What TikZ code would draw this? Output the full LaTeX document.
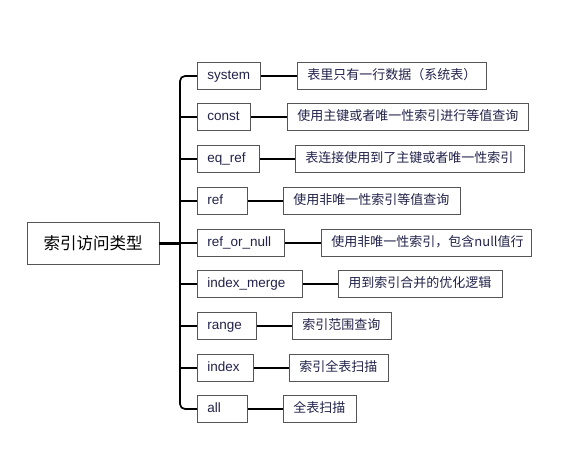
\documentclass[tikz,border=0pt]{standalone}
\usepackage{fontspec}
\setmainfont{Liberation Sans}
\newfontfamily\cjk{Noto Sans CJK SC}
\definecolor{txt}{HTML}{22224A}
\definecolor{edge}{HTML}{555555}
\begin{document}
\begin{tikzpicture}[x=1pt,y=-1pt,
  catbox/.style={draw=edge,line width=0.9pt,anchor=west,minimum height=27pt,inner xsep=10pt,inner ysep=0pt,text height=9.5pt,text depth=2.5pt,align=left,text=txt,font=\fontsize{13.5}{15}\selectfont},
  descbox/.style={draw=edge,line width=0.9pt,anchor=west,minimum height=27pt,inner xsep=10pt,inner ysep=0pt,text height=10pt,text depth=2.5pt,align=left,text=txt,font=\cjk\fontsize{13}{15}\selectfont},
  conn/.style={line width=1.7pt,black},
  rootconn/.style={line width=3pt,black}]
\useasboundingbox (0,0) rectangle (576,464);
\fill[white] (0,0) rectangle (576,464);
\node[draw=edge,line width=0.9pt,minimum width=132pt,minimum height=42pt,text=black,font=\cjk\fontsize{16.5}{18}\selectfont] (root) at (93,243) {索引访问类型};
\coordinate (trunk) at (180,0);
\node[catbox,text width=43pt] (c1) at (197,76) {system};
\node[catbox,text width=33pt] (c2) at (197,117) {const};
\node[catbox,text width=42pt] (c3) at (197,159) {eq\_ref};
\node[catbox,text width=30pt] (c4) at (197,201) {ref};
\node[catbox,text width=67pt] (c5) at (197,243) {ref\_or\_null};
\node[catbox,text width=85pt] (c6) at (197,284) {index\_merge};
\node[catbox,text width=39pt] (c7) at (197,326) {range};
\node[catbox,text width=36pt] (c8) at (197,368) {index};
\node[catbox,text width=30pt] (c9) at (197,409) {all};
\node[descbox,text width=169pt] (d1) at (297,76) {表里只有一行数据（系统表）};
\node[descbox,text width=221pt] (d2) at (287,117) {使用主键或者唯一性索引进行等值查询};
\node[descbox,text width=209pt] (d3) at (295,159) {表连接使用到了主键或者唯一性索引};
\node[descbox,text width=157pt] (d4) at (283,201) {使用非唯一性索引等值查询};
\node[descbox,text width=190pt] (d5) at (321,243) {使用非唯一性索引，包含null值行};
\node[descbox,text width=144pt] (d6) at (338,284) {用到索引合并的优化逻辑};
\node[descbox,text width=79pt] (d7) at (292,326) {索引范围查询};
\node[descbox,text width=79pt] (d8) at (289,368) {索引全表扫描};
\node[descbox,text width=53pt] (d9) at (283,409) {全表扫描};
\draw[conn,rounded corners=5pt] (c1.west) -- (c1.west -| trunk) -- (c9.west -| trunk) -- (c9.west);
\foreach \i in {2,...,8} {\draw[conn] (c\i.west -| trunk) -- (c\i.west);}
\foreach \i in {1,...,9} {\draw[conn] (c\i.east) -- (d\i.west);}
\draw[rootconn] (root.east) -- (root.east -| trunk);
\end{tikzpicture}
\end{document}
